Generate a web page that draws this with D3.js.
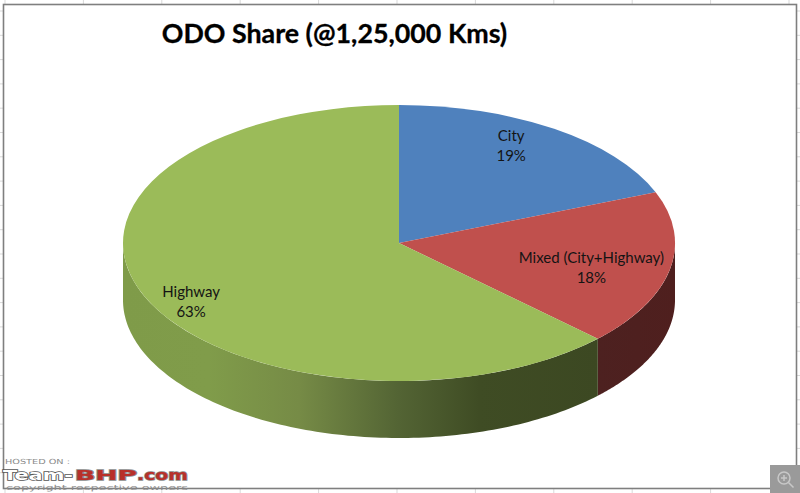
<!DOCTYPE html>
<html><head><meta charset="utf-8">
<script src="https://cdn.jsdelivr.net/npm/d3@7"></script>
<style>html,body{margin:0;padding:0;background:#fff}svg{display:block}</style>
</head><body>
<svg id="c" width="800" height="493"></svg>
<script>
const categories = ["City", "Mixed (City+Highway)", "Highway"];
const shares = [19, 18.2, 62.8];
const topColors = ["#4f81bd", "#c0504d", "#9bbb59"];
const titleText = "ODO Share (@1,25,000 Kms)";

const W = 800, H = 493, cx = 399, cy = 243, rx = 276, ry = 138, depth = 57;
const svg = d3.select("#c").attr("viewBox", [0, 0, W, H]);
const font = "Lato, 'Open Sans', sans-serif";

// spreadsheet grid peeking around the frame
const grid = svg.append("g").attr("stroke", "#d9d9d9").attr("stroke-width", 1);
d3.range(5, 800, 78.4).forEach(x => {
  grid.append("line").attr("x1", x).attr("x2", x).attr("y1", 0).attr("y2", 4);
  grid.append("line").attr("x1", x).attr("x2", x).attr("y1", 488).attr("y2", 493);
});
d3.range(11, 490, 24.3).forEach(y => {
  grid.append("line").attr("x1", 0).attr("x2", 3).attr("y1", y).attr("y2", y);
  grid.append("line").attr("x1", 796).attr("x2", 800).attr("y1", y).attr("y2", y);
});
svg.append("rect").attr("x", 3.5).attr("y", 4.5).attr("width", 793).attr("height", 484)
  .attr("fill", "#fff").attr("stroke", "#7f7f7f").attr("stroke-width", 1.6);

const defs = svg.append("defs");
const gGreen = defs.append("linearGradient").attr("id", "sideGreen")
  .attr("gradientUnits", "userSpaceOnUse").attr("x1", cx - rx).attr("x2", cx + 199).attr("y1", 0).attr("y2", 0);
[[0, "#7f9b49"], [0.18, "#809c4a"], [0.37, "#768b46"], [0.58, "#536434"], [0.75, "#3f4c24"], [1, "#3c4822"]]
  .forEach(([o, c]) => gGreen.append("stop").attr("offset", o).attr("stop-color", c));
const gRed = defs.append("linearGradient").attr("id", "sideRed")
  .attr("gradientUnits", "userSpaceOnUse").attr("x1", cx + 199).attr("x2", cx + rx).attr("y1", 0).attr("y2", 0);
[[0, "#4d2120"], [1, "#4f1f1e"]].forEach(([o, c]) => gRed.append("stop").attr("offset", o).attr("stop-color", c));
const sideFill = { "Mixed (City+Highway)": "url(#sideRed)", "Highway": "url(#sideGreen)", "City": "#385d8a" };

const pie = d3.pie().sort(null).value(d => d.v);
const arcs = pie(categories.map((c, i) => ({ c, v: shares[i], col: topColors[i] })));

// projection of the tilted disc
const sx = d3.scaleLinear().domain([-1, 1]).range([cx - rx, cx + rx]);
const sy = d3.scaleLinear().domain([-1, 1]).range([cy - ry, cy + ry]);

// visible rim: the part of each slice on the front half of the disc
const front = [Math.PI / 2, 3 * Math.PI / 2];
const rim = d3.area()
  .x(a => sx(Math.sin(a)))
  .y0(a => sy(-Math.cos(a)))
  .y1(a => sy(-Math.cos(a)) + depth);
arcs.forEach(s => {
  const a0 = Math.max(s.startAngle, front[0]), a1 = Math.min(s.endAngle, front[1]);
  if (a1 <= a0) return;
  const n = 120;
  const angles = d3.range(n + 1).map(i => a0 + (a1 - a0) * i / n);
  svg.append("path").attr("d", rim(angles)).attr("fill", sideFill[s.data.c]);
});

// top faces
const arcGen = d3.arc().innerRadius(0).outerRadius(1);
const topG = svg.append("g").attr("transform", `translate(${cx},${cy}) scale(${rx},${ry})`);
topG.selectAll("path").data(arcs).join("path")
  .attr("d", arcGen).attr("fill", d => d.data.col);

// slice labels
const labelR = [0.62, 0.74, 0.72];
const labelShift = [[16, -26], [-8, 5], [-25, 20]];
const lbl = svg.append("g").attr("font-family", font).attr("font-size", 15)
  .attr("fill", "#141414").attr("text-anchor", "middle");
arcs.forEach((s, i) => {
  const a = (s.startAngle + s.endAngle) / 2;
  const x = sx(Math.sin(a) * labelR[i]) + labelShift[i][0];
  const y = sy(-Math.cos(a) * labelR[i]) + labelShift[i][1];
  const t = lbl.append("text").attr("x", x).attr("y", y);
  t.append("tspan").attr("x", x).attr("dy", -5).text(s.data.c);
  t.append("tspan").attr("x", x).attr("dy", 20).text(Math.round(s.data.v) + "%");
});

svg.append("text").attr("x", 334.5).attr("y", 43).attr("text-anchor", "middle")
  .attr("font-family", font).attr("font-weight", 700).attr("font-size", 26.8).attr("fill", "#000")
  .attr("stroke", "#000").attr("stroke-width", 0.3)
  .text(titleText);

// host watermark
const wm = svg.append("g").attr("font-family", "'DejaVu Sans', sans-serif");
wm.append("text").attr("x", 5).attr("y", 464).attr("font-size", 7).attr("fill", "#8a8a8a")
  .attr("textLength", 65).attr("lengthAdjust", "spacingAndGlyphs").text("HOSTED ON :");
const logo = (txt, x, len, fill, edge) => wm.append("text").attr("x", x).attr("y", 479.5)
  .attr("font-size", 13.5).attr("font-weight", 700).attr("fill", fill)
  .attr("stroke", edge).attr("stroke-width", 1.3).attr("paint-order", "stroke")
  .attr("textLength", len).attr("lengthAdjust", "spacingAndGlyphs").text(txt);
logo("Team-", 3, 70, "#fff", "#555");
logo("BHP", 75, 62, "#b8302a", "#8a8a8a");
logo(".com", 137, 51, "#b8302a", "#8a8a8a");
wm.append("text").attr("x", 6).attr("y", 490).attr("font-size", 7).attr("fill", "#8a8a8a")
  .attr("textLength", 182).attr("lengthAdjust", "spacingAndGlyphs").text("copyright respective owners");

// enlarge icon
const ic = svg.append("g");
ic.append("rect").attr("x", 770).attr("y", 465).attr("width", 30).attr("height", 28).attr("fill", "#9a9a9a");
ic.append("circle").attr("cx", 784).attr("cy", 478).attr("r", 6).attr("fill", "none").attr("stroke", "#c8c8c8").attr("stroke-width", 1.5);
ic.append("path").attr("d", "M781 478h6M784 475v6M788.5 482.5l5 5").attr("stroke", "#c8c8c8").attr("stroke-width", 1.5);
</script>
</body></html>
